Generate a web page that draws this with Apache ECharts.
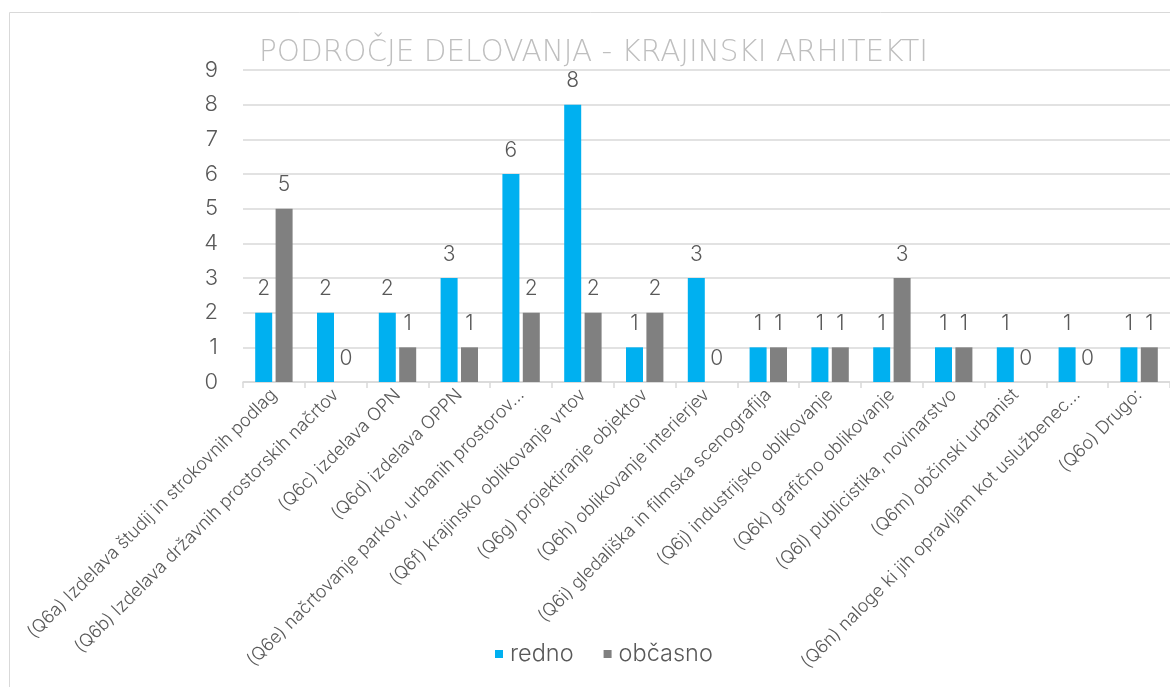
<!DOCTYPE html>
<html><head><meta charset="utf-8">
<script src="https://cdn.jsdelivr.net/npm/echarts@6/dist/echarts.min.js"></script>
<style>html,body{margin:0;padding:0;background:#fff}#c{width:1170px;height:687px}</style>
</head><body><div id="c"></div>
<script>
const categories = [
  "(Q6a) Izdelava študij in strokovnih podlag",
  "(Q6b) Izdelava državnih prostorskih načrtov",
  "(Q6c) izdelava OPN",
  "(Q6d) izdelava OPPN",
  "(Q6e) načrtovanje parkov, urbanih prostorov…",
  "(Q6f) krajinsko oblikovanje vrtov",
  "(Q6g) projektiranje objektov",
  "(Q6h) oblikovanje interierjev",
  "(Q6i) gledališka in filmska scenografija",
  "(Q6j) industrijsko oblikovanje",
  "(Q6k) grafično oblikovanje",
  "(Q6l) publicistika, novinarstvo",
  "(Q6m) občinski urbanist",
  "(Q6n) naloge ki jih opravljam kot uslužbenec…",
  "(Q6o) Drugo:"
];
const redno   = [2, 2, 2, 3, 6, 8, 1, 3, 1, 1, 1, 1, 1, 1, 1];
const obcasno = [5, 0, 1, 1, 2, 2, 2, 0, 1, 1, 3, 1, 0, 0, 1];
const yTicks = { min: 0, max: 9, interval: 1 };

const FONT = 'Inter';
const chart = echarts.init(document.getElementById('c'));
const lbl = { show: true, position: 'top', distance: 13, color: '#595959', fontSize: 21, fontFamily: FONT, fontWeight: 300 };
chart.setOption({
  animation: false,
  title: {
    text: 'PODROČJE DELOVANJA - KRAJINSKI ARHITEKTI',
    left: 254, top: 33,
    textStyle: { color: '#bfbfbf', fontSize: 29.5, fontWeight: 200, fontFamily: 'DejaVu Sans' }
  },
  graphic: [{ type: 'rect', shape: { x: 9.5, y: 12.5, width: 1200, height: 700 }, style: { fill: 'none', stroke: '#d9d9d9', lineWidth: 1 }, silent: true }],
  legend: {
    bottom: 16, left: 490,
    itemWidth: 8, itemHeight: 8, itemGap: 30,
    icon: 'rect',
    textStyle: { color: '#595959', fontSize: 23.5, fontFamily: FONT, fontWeight: 300, padding: [0, 0, 0, 2] },
    data: ['redno', 'občasno']
  },
  grid: { left: 243, right: 0, top: 70, bottom: 305 },
  xAxis: {
    type: 'category', data: categories,
    axisLine: { lineStyle: { color: '#d9d9d9', width: 1.5 } },
    axisTick: { show: true, length: 6, lineStyle: { color: '#d9d9d9', width: 1.5 } },
    axisLabel: { interval: 0, rotate: 45, color: '#595959', fontSize: 18, fontFamily: FONT, fontWeight: 300, margin: 10 }
  },
  yAxis: {
    type: 'value', min: yTicks.min, max: yTicks.max, interval: yTicks.interval,
    axisLine: { show: false }, axisTick: { show: false },
    axisLabel: { color: '#595959', fontSize: 22, fontFamily: FONT, fontWeight: 300, margin: 25 },
    splitLine: { lineStyle: { color: '#d9d9d9', width: 1.5 } }
  },
  series: [
    { name: 'redno', type: 'bar', data: redno, barWidth: 17, barGap: '20%', itemStyle: { color: '#00b0f0' }, label: lbl },
    { name: 'občasno', type: 'bar', data: obcasno, barWidth: 17, barGap: '20%', itemStyle: { color: '#808080' }, label: lbl }
  ]
});
</script></body></html>
